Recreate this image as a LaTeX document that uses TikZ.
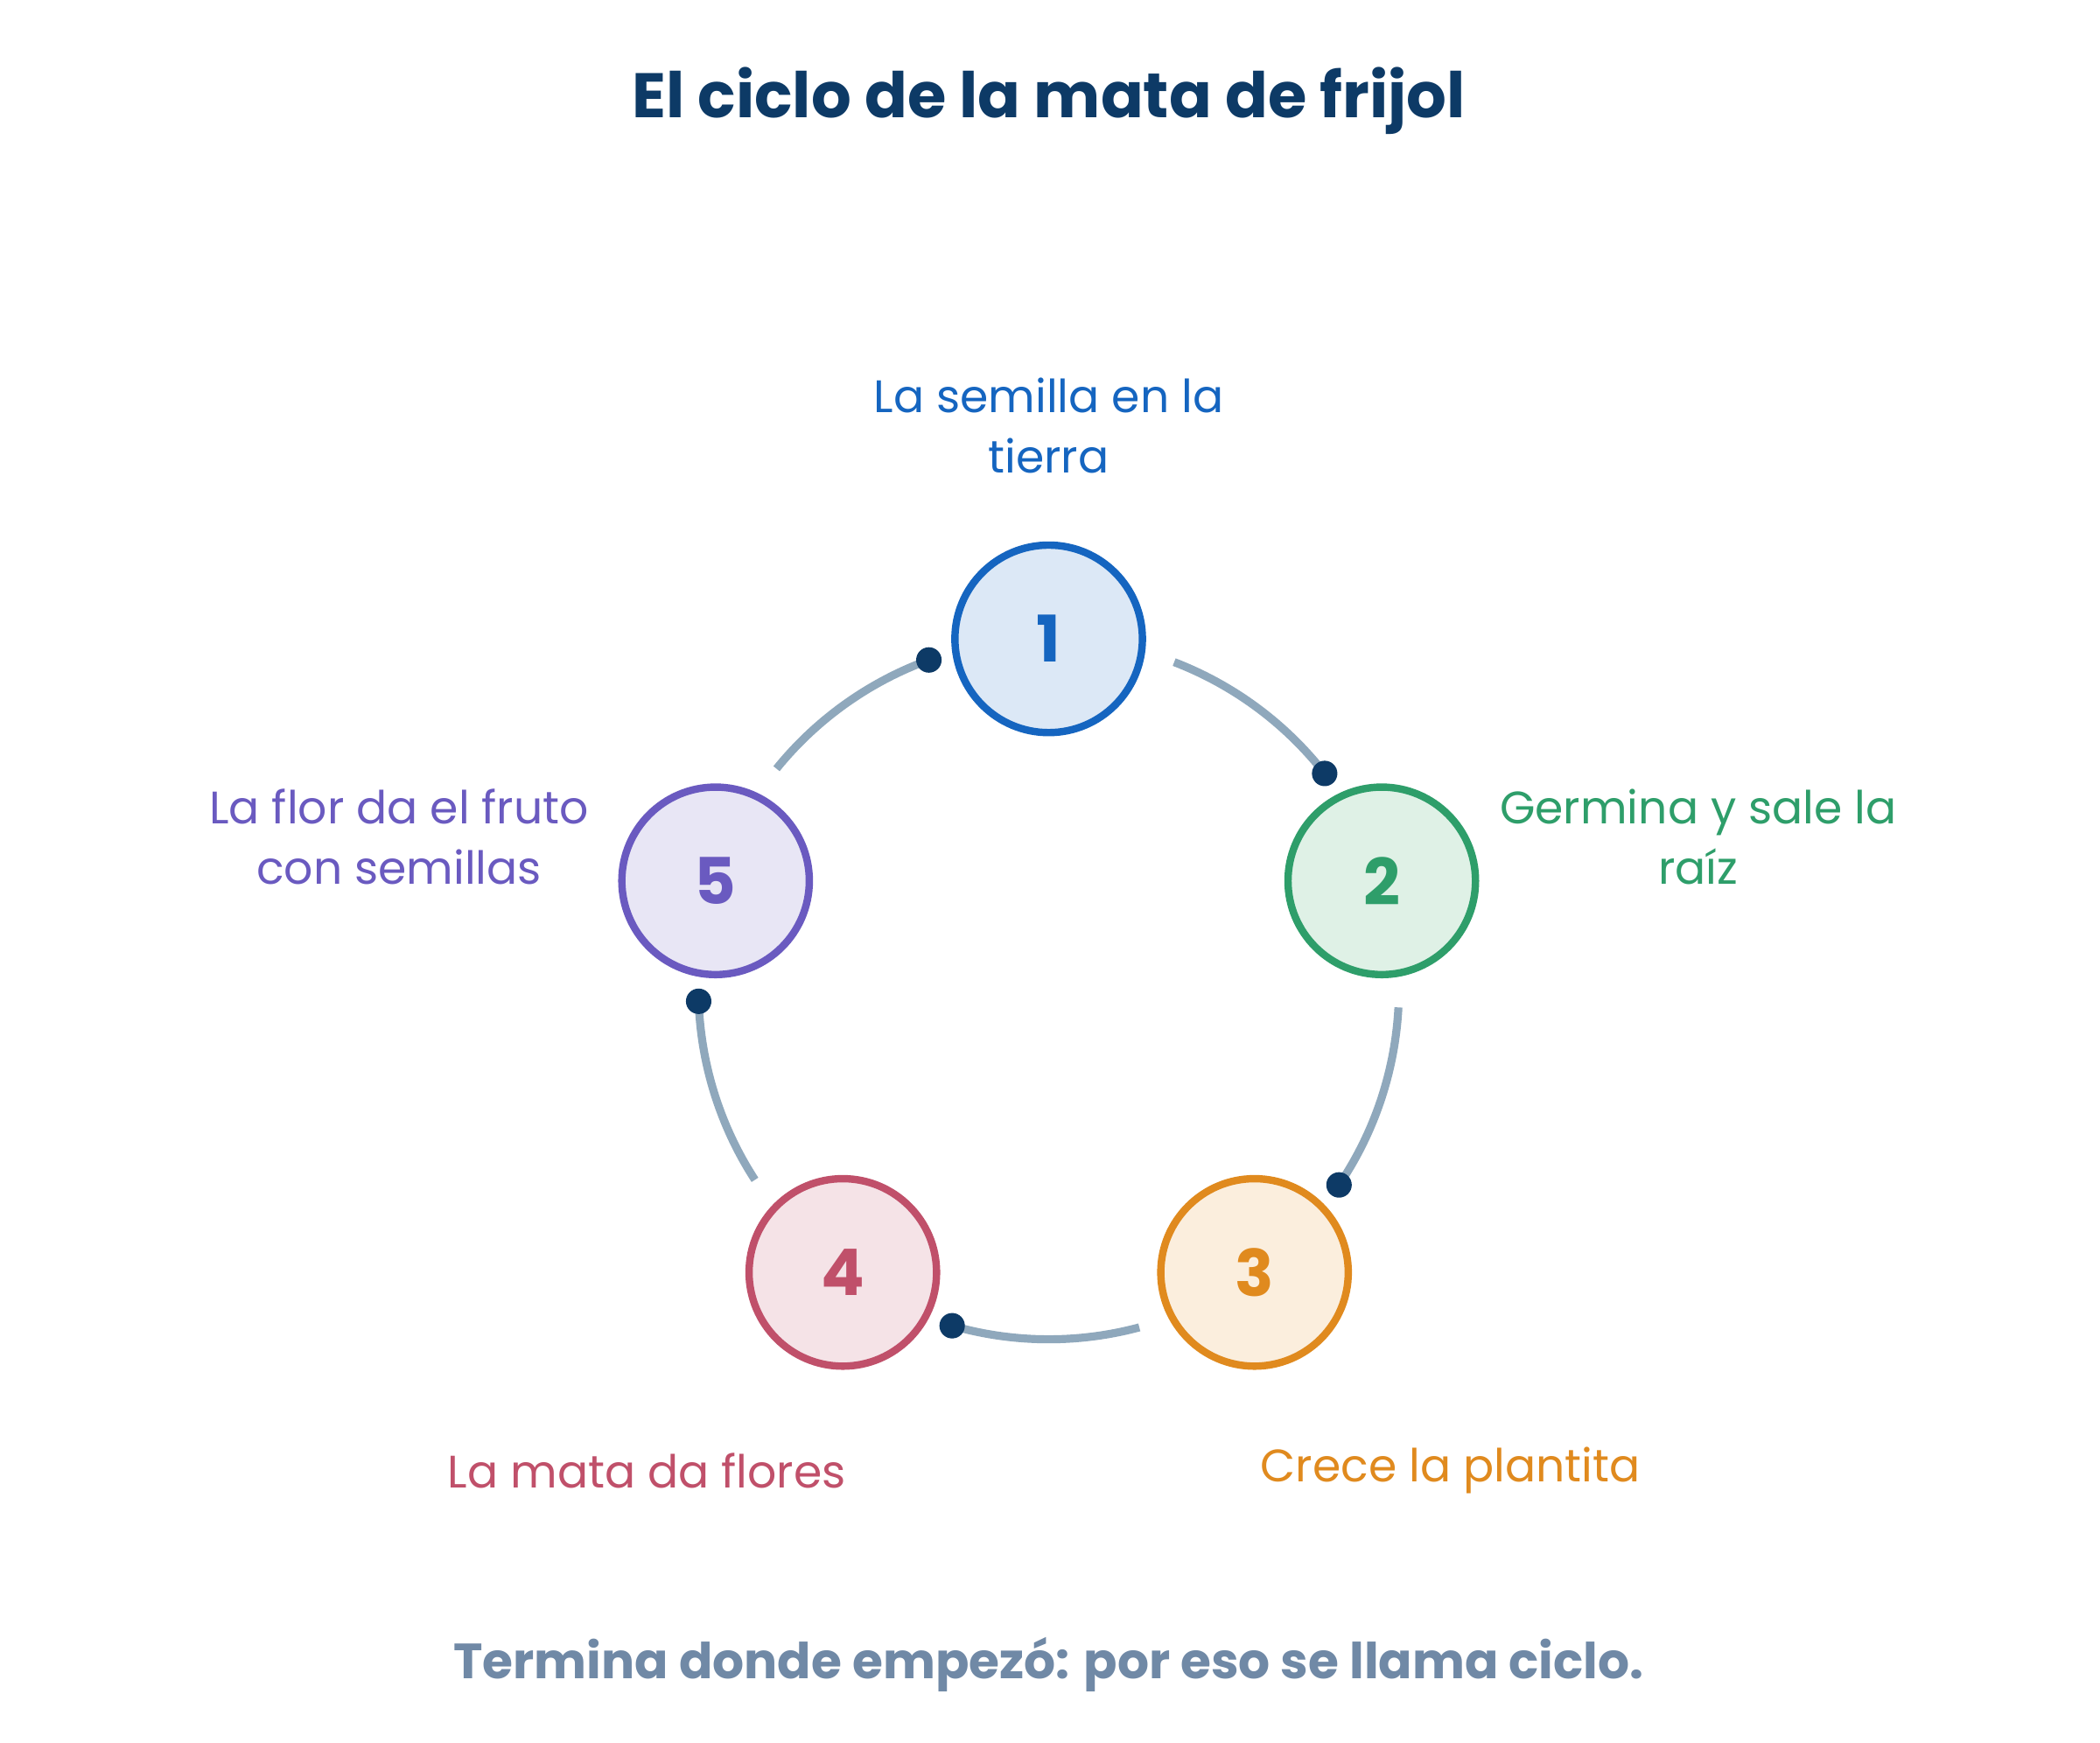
\documentclass[tikz,border=0pt]{standalone}
\usepackage{fontspec}
\usetikzlibrary{calc}
\setmainfont{Poppins}
\definecolor{navy}{HTML}{0D3A66}
\definecolor{arcc}{HTML}{8FA8BC}
\definecolor{foot}{HTML}{7089A6}
\definecolor{cA}{HTML}{1565C0}\definecolor{fA}{HTML}{DCE8F6}
\definecolor{cB}{HTML}{2E9E6A}\definecolor{fB}{HTML}{DFF1E6}
\definecolor{cC}{HTML}{E08A1E}\definecolor{fC}{HTML}{FBEEDD}
\definecolor{cD}{HTML}{C0506A}\definecolor{fD}{HTML}{F5E3E7}
\definecolor{cE}{HTML}{6A5AC0}\definecolor{fE}{HTML}{E8E6F5}
\begin{document}
\begin{tikzpicture}[x=1pt,y=-1pt,
 stage/.style={circle,minimum size=140pt,line width=5.5pt,inner sep=0pt,font=\fontsize{48}{54}\selectfont\bfseries},
 lab/.style={align=center,font=\fontsize{34}{45}\selectfont},
 arcl/.style={arcc,line width=6pt},
 dot/.style={circle,fill=navy,minimum size=19pt,inner sep=0pt}]
\useasboundingbox (0,0) rectangle (1568,1301);
\fill[white] (0,0) rectangle (1568,1301);
\coordinate (O) at (783,738.5);
\node[font=\fontsize{47}{54}\selectfont\bfseries,text=navy] (title) at (783,75) {El ciclo de la mata de frijol};
\foreach \n/\a/\c in {1/90/A,2/18/B,3/-54/C,4/-126/D,5/-198/E}{
  \node[stage,draw=c\c,fill=f\c,text=c\c] (s\n) at ($(O)+(\a:261.5 and -261.5)$) {\n};
}
\foreach \a [count=\i] in {90,18,-54,-126,-198}{
  \draw[arcl] ($(O)+({\a-21}:261.5 and -261.5)$) arc[start angle={-(\a-21)},end angle={-(\a-72+20)},radius=261.5];
  \node[dot] (d\i) at ($(O)+({\a-72+20}:261.5 and -261.5)$) {};
}
\node[lab,text=cA] (l1) at (783,318) {La semilla en la\\tierra};
\node[lab,text=cB] (l2) at (1268,625) {Germina y sale la\\raíz};
\node[lab,text=cC] (l3) at (1083,1098) {Crece la plantita};
\node[lab,text=cD] (l4) at (483,1098) {La mata da flores};
\node[lab,text=cE] (l5) at (298,625) {La flor da el fruto\\con semillas};
\node[font=\fontsize{37}{42}\selectfont\bfseries,text=foot] (foot) at (783,1243) {Termina donde empezó: por eso se llama ciclo.};
\end{tikzpicture}
\end{document}
